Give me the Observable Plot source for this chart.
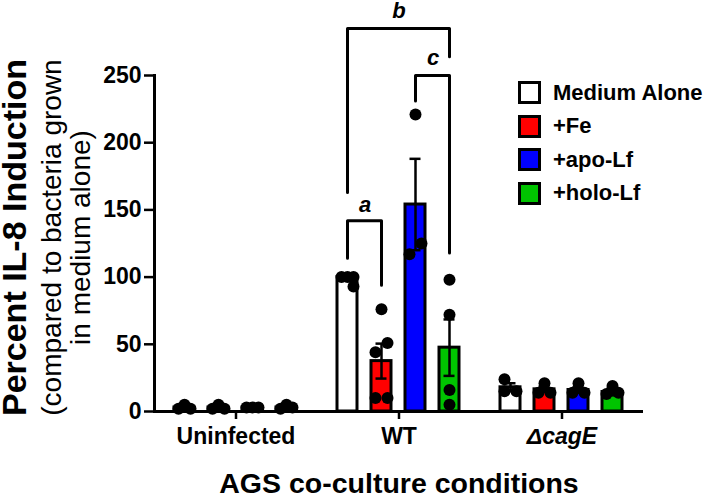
<!DOCTYPE html>
<html>
<head>
<meta charset="utf-8">
<script src="https://cdn.jsdelivr.net/npm/d3@7"></script>
<script src="https://cdn.jsdelivr.net/npm/@observablehq/plot@0.6"></script>
<style>
  html, body { margin: 0; padding: 0; background: #fff; }
  #wrap { position: relative; width: 711px; height: 496px; font-family: "Liberation Sans", Arial, sans-serif; }
  #legend { position: absolute; left: 518px; top: 76px; font-weight: bold; font-size: 22px; }
  #legend .row { display: flex; align-items: center; height: 33.5px; }
  #legend .sw { width: 17px; height: 17px; border: 3px solid #000; margin-right: 12px; }
</style>
</head>
<body>
<div id="wrap"></div>
<script>
// ---- data ----
const groups = ["Uninfected", "WT", "ΔcagE"];
const conditions = ["Medium Alone", "+Fe", "+apo-Lf", "+holo-Lf"];
const colors = ["#ffffff", "#ff0000", "#0000ff", "#00c400"];
const yTicks = [0, 50, 100, 150, 200, 250];

const meanUninfected = [3, 3, 3, 3];
const semUninfected = [1, 1, 0.5, 1];
const meanWT = [100, 37.5, 154, 47.5];
const semWT = [1.5, 13, 34, 21];
const meanCagE = [18, 16.5, 16, 14.5];
const semCagE = [3, 2, 2, 2.5];

// individual replicate values, and their horizontal jitter slot (-1, 0, 1)
const ptsUninfected = [[2, 5, 2], [2, 5, 2], [3, 3, 3], [2, 5, 3]];
const offUninfected = [[-1, 0, 1], [-1, 0, 1], [-1, 0, 1], [-1, 0, 1]];
const ptsWT = [[100, 100, 100, 93], [76, 51, 44, 10, 10], [221, 117, 125], [98, 72, 16, 5]];
const offWT = [[-1, 0, 1, 1], [0, 1, -1, -1, 1], [0, -1, 1], [0, 0, 0, 0]];
const ptsCagE = [[24, 15, 15], [21, 14, 14], [21, 14, 14], [19, 13, 14]];
const offCagE = [[-1, -1, 1], [0, -1, 1], [0, -1, 1], [0, -1, 1]];

// significance brackets (WT group)
const bracketLabels = ["a", "b", "c"];
const bracketFrom = ["Medium Alone", "Medium Alone", "+apo-Lf"];
const bracketTo = ["+Fe", "+holo-Lf", "+holo-Lf"];
const bracketTop = [142, 285, 250];
const bracketLeftEnd = [114, 163, 231];
const bracketRightEnd = [94, 264, 118];
const bracketLabelY = [154, 298, 263];

// ---- tables built from the arrays ----
const means = [meanUninfected, meanWT, meanCagE];
const sems = [semUninfected, semWT, semCagE];
const pts = [ptsUninfected, ptsWT, ptsCagE];
const offs = [offUninfected, offWT, offCagE];

const bars = [];
const points = [];
groups.forEach((g, gi) => {
  conditions.forEach((c, ci) => {
    bars.push({group: g, cond: c, mean: means[gi][ci], sem: sems[gi][ci]});
    pts[gi][ci].forEach((v, k) => points.push({group: g, cond: c, value: v, off: offs[gi][ci][k]}));
  });
});

const bracketPts = [];
bracketLabels.forEach((l, i) => {
  bracketPts.push({label: l, group: "WT", cond: bracketFrom[i], y: bracketLeftEnd[i]});
  bracketPts.push({label: l, group: "WT", cond: bracketFrom[i], y: bracketTop[i]});
  bracketPts.push({label: l, group: "WT", cond: bracketTo[i], y: bracketTop[i]});
  bracketPts.push({label: l, group: "WT", cond: bracketTo[i], y: bracketRightEnd[i]});
});
const labelsAdj = bracketLabels.map((l, i) => ({label: l, group: "WT", cond: bracketFrom[i], y: bracketLabelY[i]})).filter(d => d.label !== "b");
const labelsWide = bracketLabels.map((l, i) => ({label: l, group: "WT", y: bracketLabelY[i]})).filter(d => d.label === "b");

const font = "Liberation Sans, Arial, sans-serif";

const chart = Plot.plot({
  width: 711,
  height: 496,
  marginLeft: 154,
  marginRight: 68,
  marginTop: 75,
  marginBottom: 85,
  style: {fontFamily: font, background: "#fff", overflow: "visible", color: "#000"},
  fx: {domain: groups, padding: 0},
  x: {domain: conditions, paddingInner: 0.4, paddingOuter: 0.54, axis: null},
  y: {domain: [0, 250]},
  color: {domain: conditions, range: colors},
  marks: [
    Plot.barY(bars, {fx: "group", x: "cond", y: "mean", fill: "cond", stroke: "#000", strokeWidth: 3}),
    Plot.ruleX(bars, {fx: "group", x: "cond", y1: d => Math.max(0, d.mean - d.sem), y2: d => d.mean + d.sem, stroke: "#000", strokeWidth: 2.5}),
    Plot.tickY(bars, {fx: "group", x: "cond", y: d => d.mean + d.sem, stroke: "#000", strokeWidth: 2.5, insetLeft: 4.5, insetRight: 4.5}),
    Plot.tickY(bars, {fx: "group", x: "cond", y: d => Math.max(0, d.mean - d.sem), stroke: "#000", strokeWidth: 2.5, insetLeft: 4.5, insetRight: 4.5}),
    Plot.dot(points.filter(d => d.off === -1), {fx: "group", x: "cond", y: "value", r: 6, fill: "#000", dx: -6}),
    Plot.dot(points.filter(d => d.off === 0), {fx: "group", x: "cond", y: "value", r: 6, fill: "#000"}),
    Plot.dot(points.filter(d => d.off === 1), {fx: "group", x: "cond", y: "value", r: 6, fill: "#000", dx: 6}),
    Plot.line(bracketPts, {fx: "group", x: "cond", y: "y", z: "label", stroke: "#000", strokeWidth: 3}),
    Plot.text(labelsAdj, {fx: "group", x: "cond", y: "y", text: "label", dx: 17.5, fontSize: 22, fontWeight: "bold", fontStyle: "italic"}),
    Plot.text(labelsWide, {fx: "group", y: "y", text: "label", fontSize: 22, fontWeight: "bold", fontStyle: "italic"}),
    Plot.ruleY([0], {stroke: "#000", strokeWidth: 3}),
    Plot.frame({anchor: "left", facetAnchor: "left", stroke: "#000", strokeWidth: 3}),
    Plot.axisY({ticks: yTicks, tickSize: 10, tickPadding: 3, strokeWidth: 2.5, fontSize: 23, fontWeight: "bold", label: null}),
    Plot.axisFx({anchor: "bottom", ticks: groups.slice(0, 2), tickSize: 8, tickPadding: 8, strokeWidth: 2.5, fontSize: 23, fontWeight: "bold", label: null}),
    Plot.axisFx({anchor: "bottom", ticks: groups.slice(2), tickSize: 8, tickPadding: 8, strokeWidth: 2.5, fontSize: 23, fontWeight: "bold", fontStyle: "italic", label: null}),
    Plot.axisFx({anchor: "bottom", ticks: [], label: "AGS co-culture conditions", labelAnchor: "center", labelOffset: 81, fontSize: 28.5, fontWeight: "bold", dx: -10}),
    Plot.text(["Percent IL-8 Induction"], {text: d => d, facetAnchor: "left", frameAnchor: "left", textAnchor: "middle", rotate: -90, dx: -139, dy: -6, fontSize: 34, fontWeight: "bold"}),
    Plot.text(["(compared to bacteria grown"], {text: d => d, facetAnchor: "left", frameAnchor: "left", textAnchor: "middle", rotate: -90, dx: -102, dy: -6, fontSize: 28}),
    Plot.text(["in medium alone)"], {text: d => d, facetAnchor: "left", frameAnchor: "left", textAnchor: "middle", rotate: -90, dx: -73, dy: -6, fontSize: 28})
  ]
});

const wrap = document.getElementById("wrap");
wrap.appendChild(chart);

// legend
const legend = document.createElement("div");
legend.id = "legend";
conditions.forEach((c, i) => {
  const row = document.createElement("div");
  row.className = "row";
  const sw = document.createElement("div");
  sw.className = "sw";
  sw.style.background = colors[i];
  const lab = document.createElement("span");
  lab.textContent = c;
  row.appendChild(sw);
  row.appendChild(lab);
  legend.appendChild(row);
});
wrap.appendChild(legend);
</script>
</body>
</html>
